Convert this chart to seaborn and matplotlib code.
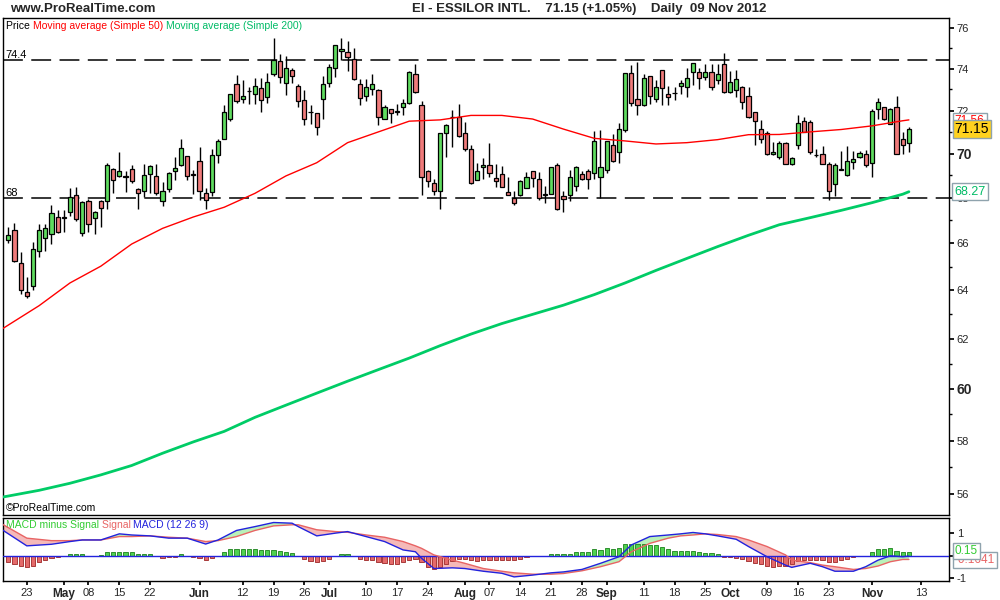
import numpy as np
import pandas as pd
import seaborn as sns
import matplotlib.pyplot as plt

sns.set_theme(style="white")
plt.rcParams["font.family"] = ["Liberation Sans", "DejaVu Sans"]

# trading sessions, Euronext is closed on 1 May; two future days for the last tick
sessions = pd.bdate_range("2012-04-18", "2012-11-13")
sessions = sessions[sessions != pd.Timestamp("2012-05-01")]

# daily candles, EI - Essilor, 18 Apr -> 09 Nov 2012
opens = [66.13, 66.58, 65.14, 63.94, 64.20, 65.66, 66.22, 66.40, 67.14, 67.15,
         67.36, 68.11, 66.45, 67.86, 67.12, 67.86, 67.84, 69.28, 68.98, 68.97,
         69.28, 68.41, 68.29, 69.09, 68.98, 67.84, 68.38, 69.19, 69.46, 69.88,
         69.05, 69.64, 68.20, 68.26, 69.91, 70.68, 71.59, 73.27, 72.55, 72.93,
         72.80, 73.05, 72.64, 73.74, 74.39, 73.30, 73.93, 73.18, 72.52, 71.95,
         71.87, 72.55, 73.30, 74.05, 74.85, 74.81, 74.49, 73.27, 72.71, 73.02,
         72.99, 71.62, 72.06, 71.97, 72.15, 72.34, 73.74, 72.24, 69.22, 68.68,
         68.29, 70.96, 71.70, 71.68, 70.93, 70.19, 68.80, 69.37, 69.46, 68.89,
         69.07, 68.26, 67.99, 68.11, 68.44, 69.19, 68.86, 68.15, 68.17, 69.46,
         68.08, 68.11, 68.53, 69.07, 69.19, 69.10, 68.92, 69.25, 70.40, 70.09,
         71.09, 73.77, 72.55, 72.27, 73.64, 72.55, 73.93, 72.80, 72.83, 73.18,
         73.11, 73.83, 73.83, 73.58, 73.83, 73.46, 74.21, 72.86, 72.96, 73.11,
         72.71, 71.93, 71.12, 70.93, 69.97, 69.85, 70.50, 69.52, 70.37, 71.52,
         71.46, 69.95, 70.00, 69.52, 68.62, 69.27, 69.01, 69.61, 69.82, 70.00,
         69.58, 72.06, 72.15, 71.37, 72.15, 70.65, 70.47]
highs = [66.73, 66.87, 65.63, 64.54, 66.05, 66.82, 66.82, 67.66, 67.45, 67.45,
         68.44, 68.47, 67.85, 67.95, 67.42, 67.90, 69.58, 69.34, 70.06, 69.19,
         69.47, 68.45, 69.50, 69.47, 69.50, 68.71, 69.16, 69.85, 70.68, 69.90,
         69.25, 70.28, 68.44, 70.19, 70.65, 72.27, 72.80, 73.71, 73.46, 73.11,
         73.55, 73.55, 73.80, 75.50, 74.73, 74.60, 74.02, 73.27, 72.99, 72.24,
         71.90, 73.67, 74.23, 75.16, 75.50, 75.34, 75.01, 73.49, 73.49, 73.74,
         73.00, 72.24, 72.08, 72.30, 72.55, 73.89, 74.23, 72.46, 69.25, 68.86,
         70.96, 71.37, 72.02, 72.30, 71.46, 70.40, 69.55, 69.79, 70.47, 69.50,
         69.43, 68.92, 68.29, 68.80, 69.16, 69.20, 69.16, 68.53, 69.40, 69.58,
         68.29, 69.25, 69.42, 69.19, 69.28, 71.03, 71.09, 70.58, 70.90, 71.43,
         73.80, 74.17, 74.33, 73.74, 73.66, 73.46, 73.95, 73.18, 73.14, 73.46,
         74.02, 74.28, 74.02, 74.21, 74.21, 74.21, 74.75, 73.87, 73.93, 73.18,
         73.14, 71.95, 71.56, 71.03, 70.53, 70.56, 70.53, 69.85, 71.78, 71.68,
         71.56, 70.19, 70.34, 69.61, 69.58, 70.12, 70.34, 70.12, 70.12, 70.15,
         72.08, 72.58, 72.18, 72.12, 72.71, 71.00, 71.24]
lows = [66.00, 65.20, 63.85, 63.67, 64.03, 65.43, 65.66, 65.95, 66.45, 66.51,
        67.21, 66.96, 66.31, 66.49, 66.40, 66.69, 67.50, 68.23, 68.95, 68.26,
        68.68, 67.48, 68.04, 68.23, 68.14, 67.63, 68.26, 68.80, 69.44, 68.80,
        68.17, 67.90, 67.48, 68.08, 69.58, 70.65, 71.50, 72.36, 72.36, 72.33,
        72.30, 71.93, 72.36, 73.64, 73.33, 72.74, 73.30, 72.15, 71.31, 71.37,
        70.87, 71.62, 73.11, 73.58, 74.44, 73.87, 73.45, 72.24, 72.46, 72.74,
        71.31, 71.60, 71.40, 71.78, 71.78, 72.30, 72.84, 68.14, 68.50, 68.14,
        67.48, 69.82, 70.31, 70.78, 70.12, 68.62, 68.78, 68.86, 68.95, 68.47,
        68.48, 68.12, 67.66, 68.08, 68.42, 68.47, 67.90, 67.75, 68.15, 67.46,
        67.39, 67.84, 68.32, 68.80, 68.41, 68.83, 67.99, 69.10, 69.62, 69.58,
        71.00, 72.21, 71.78, 72.21, 72.30, 72.40, 72.24, 72.27, 72.49, 72.77,
        72.64, 73.20, 73.02, 73.46, 72.96, 73.27, 72.84, 72.84, 72.64, 72.06,
        71.65, 70.37, 70.47, 69.95, 69.94, 69.73, 69.50, 69.46, 70.21, 70.98,
        69.97, 69.85, 69.50, 67.90, 68.08, 69.25, 68.98, 69.28, 69.80, 69.40,
        68.95, 71.59, 71.56, 71.35, 69.97, 69.97, 70.06]
closes = [66.37, 65.23, 64.00, 63.77, 65.74, 66.60, 66.67, 67.32, 66.49, 67.12,
          68.02, 67.05, 67.81, 66.85, 67.39, 67.54, 69.46, 68.80, 69.22, 68.95,
          68.74, 68.20, 69.04, 69.41, 68.20, 68.29, 69.10, 69.34, 70.25, 68.98,
          69.04, 68.29, 67.90, 69.91, 70.56, 71.93, 72.77, 72.43, 72.71, 72.92,
          73.18, 72.49, 73.36, 74.42, 73.58, 74.02, 73.64, 72.46, 71.62, 71.93,
          71.21, 73.27, 74.08, 75.14, 74.95, 74.55, 73.49, 72.59, 73.14, 73.24,
          71.68, 72.18, 71.87, 71.95, 72.34, 73.83, 72.86, 68.92, 68.74, 68.29,
          70.93, 71.34, 71.68, 70.81, 70.21, 68.65, 69.19, 69.49, 69.10, 68.77,
          68.50, 68.14, 67.75, 68.77, 68.95, 68.89, 67.99, 68.14, 69.37, 67.48,
          67.93, 68.95, 69.40, 68.83, 68.83, 70.56, 69.37, 70.56, 69.64, 71.15,
          73.77, 72.34, 72.24, 73.55, 72.71, 73.11, 73.08, 72.62, 72.84, 73.33,
          73.55, 74.26, 73.55, 73.83, 73.14, 73.74, 72.86, 73.36, 73.49, 72.40,
          71.68, 71.52, 70.65, 69.97, 70.09, 70.50, 69.52, 69.79, 71.40, 71.00,
          70.09, 69.94, 69.52, 68.29, 69.49, 69.28, 69.67, 69.73, 70.03, 69.49,
          71.96, 72.40, 71.59, 72.08, 70.00, 70.37, 71.15]

# moving averages, at these session numbers
ma_at = [-1, 0, 5, 10, 15, 20, 25, 30, 35, 40, 45, 50, 55, 60, 65, 70, 75, 80,
         85, 90, 95, 100, 105, 110, 115, 120, 125, 130, 135, 140, 145, 146]
ma50 = [62.40, 62.56, 63.36, 64.31, 65.02, 65.97, 66.65, 67.15, 67.58, 68.20,
        68.98, 69.58, 70.50, 71.00, 71.50, 71.56, 71.77, 71.77, 71.60, 71.13,
        70.70, 70.58, 70.44, 70.50, 70.64, 70.87, 70.88, 71.00, 71.11, 71.28,
        71.52, 71.56]
ma200 = [55.89, 55.93, 56.14, 56.40, 56.71, 57.06, 57.52, 57.95, 58.35, 58.89,
         59.36, 59.83, 60.30, 60.76, 61.22, 61.72, 62.19, 62.62, 63.00, 63.38,
         63.82, 64.31, 64.84, 65.35, 65.86, 66.35, 66.81, 67.12, 67.44, 67.78,
         68.16, 68.27]

# MACD (12 26 9)
macd_at = [-1, 3, 7, 10, 12, 15, 18, 20, 23, 26, 29, 32, 34, 37, 40, 43, 46, 47,
           50, 53, 55, 58, 61, 64, 66, 67, 69, 72, 74, 77, 80, 82, 85, 88, 90,
           93, 96, 99, 101, 104, 107, 109, 111, 113, 115, 118, 120, 123, 126,
           127, 130, 132, 134, 137, 139, 141, 143, 145, 146]
macd_line = [1.15, 0.44, 0.51, 0.63, 0.70, 0.70, 0.97, 0.92, 0.88, 0.78, 0.78,
             0.52, 0.70, 1.12, 1.29, 1.47, 1.44, 1.29, 0.88, 1.00, 1.07, 0.85,
             0.63, 0.26, 0.18, -0.11, -0.56, -0.53, -0.56, -0.68, -0.77, -0.93,
             -0.85, -0.75, -0.71, -0.60, -0.33, -0.04, 0.48, 0.85, 0.92, 0.97,
             1.03, 0.97, 0.88, 0.73, 0.41, -0.04, -0.41, -0.51, -0.33, -0.48,
             -0.68, -0.68, -0.48, -0.19, 0.00, -0.04, -0.01]
signal_line = [1.40, 0.78, 0.67, 0.67, 0.70, 0.70, 0.85, 0.85, 0.88, 0.82, 0.78,
               0.63, 0.67, 0.85, 1.12, 1.32, 1.37, 1.37, 1.15, 1.07, 1.04, 0.92,
               0.82, 0.63, 0.44, 0.33, 0.04, -0.19, -0.33, -0.56, -0.68, -0.75,
               -0.81, -0.81, -0.78, -0.66, -0.48, -0.26, 0.18, 0.55, 0.78, 0.88,
               0.92, 0.97, 0.94, 0.85, 0.70, 0.41, 0.04, -0.19, -0.30, -0.41,
               -0.48, -0.60, -0.56, -0.45, -0.26, -0.16, -0.16]
macd_hist = [-0.28, -0.34, -0.43, -0.49, -0.43, -0.28, -0.19, -0.10, -0.04, -0.01,
             0.06, 0.06, 0.10, 0.01, 0.01, 0.02, 0.16, 0.16, 0.19, 0.16,
             0.15, 0.06, 0.06, 0.06, 0.01, -0.09, -0.04, -0.04, 0.06, 0.01,
             -0.04, -0.09, -0.19, -0.09, 0.01, 0.16, 0.28, 0.31, 0.31, 0.31,
             0.31, 0.24, 0.24, 0.25, 0.22, 0.19, 0.13, 0.01, -0.13, -0.24,
             -0.28, -0.24, -0.13, 0.01, 0.06, 0.06, 0.01, -0.13, -0.19, -0.19,
             -0.28, -0.31, -0.34, -0.34, -0.28, -0.19, -0.13, -0.28, -0.49, -0.58,
             -0.49, -0.34, -0.24, -0.13, -0.13, -0.19, -0.24, -0.19, -0.19, -0.19,
             -0.19, -0.19, -0.19, -0.13, -0.04, 0.01, 0.01, 0.01, 0.09, 0.06,
             0.06, 0.10, 0.16, 0.16, 0.16, 0.28, 0.25, 0.34, 0.31, 0.34,
             0.53, 0.53, 0.53, 0.53, 0.46, 0.46, 0.39, 0.28, 0.22, 0.22,
             0.22, 0.22, 0.16, 0.13, 0.13, 0.06, -0.04, -0.04, -0.09, -0.13,
             -0.24, -0.31, -0.34, -0.46, -0.49, -0.46, -0.43, -0.34, -0.24, -0.19,
             -0.19, -0.19, -0.19, -0.28, -0.28, -0.19, -0.13, -0.04, 0.01, 0.01,
             0.19, 0.31, 0.31, 0.36, 0.22, 0.19, 0.17]

support_levels = [74.4, 68]
price_ticks = [56, 58, 60, 62, 64, 66, 68, 70, 72, 74, 76]
tick_dates = ["2012-04-23", "2012-05-02", "2012-05-08", "2012-05-15", "2012-05-22",
              "2012-06-01", "2012-06-12", "2012-06-19", "2012-06-26", "2012-07-02",
              "2012-07-10", "2012-07-17", "2012-07-24", "2012-08-01", "2012-08-07",
              "2012-08-14", "2012-08-21", "2012-08-28", "2012-09-03", "2012-09-11",
              "2012-09-18", "2012-09-25", "2012-10-01", "2012-10-09", "2012-10-16",
              "2012-10-23", "2012-11-01", "2012-11-13"]
tick_labels = ["23", "May", "08", "15", "22", "Jun", "12", "19", "26", "Jul", "10",
               "17", "24", "Aug", "07", "14", "21", "28", "Sep", "11", "18", "25",
               "Oct", "09", "16", "23", "Nov", "13"]
months = {"May", "Jun", "Jul", "Aug", "Sep", "Oct", "Nov"}

GREEN = "#5fdc5f"
RED = "#ef7b7b"

o = np.array(opens)
c = np.array(closes)
x = np.arange(len(c))
up = c >= o

fig = plt.figure(figsize=(10, 6), dpi=100, facecolor="white")
ax = fig.add_axes([0.003, 0.1417, 0.946, 0.8283])
ax2 = fig.add_axes([0.003, 0.0317, 0.946, 0.105], sharex=ax)

# ---- price panel ----
ax.set_yscale("log")
for lvl in support_levels:
    ax.axhline(lvl, color="black", lw=1.1, dashes=(13, 5.5), zorder=1)
    ax.text(-0.45, lvl, "74.4" if lvl == 74.4 else "68", fontsize=8, va="bottom",
            ha="left", color="black", zorder=5)

ax.vlines(x, lows, highs, color="black", lw=1, zorder=2)
ax.bar(x, np.maximum(np.abs(c - o), 0.004), bottom=np.minimum(o, c), width=0.68,
       color=np.where(up, GREEN, RED), edgecolor="black", linewidth=0.9, zorder=3)

sns.lineplot(x=ma_at, y=ma50, ax=ax, color="#ff0000", linewidth=1, zorder=4)
sns.lineplot(x=ma_at, y=ma200, ax=ax, color="#00cc66", linewidth=2.0, zorder=4)

ax.set_ylim(55.24, 76.5)
ax.set_xlim(-0.86, 152.5)
ax.yaxis.tick_right()
ax.set_yticks(price_ticks, [str(t) for t in price_ticks])
ax.set_yticks([t + 1 for t in price_ticks[:-1]], minor=True)
ax.yaxis.set_minor_formatter(plt.NullFormatter())
ax.tick_params(axis="y", which="both", right=True, left=False, direction="out",
               color="black", pad=2)
ax.tick_params(axis="y", which="major", length=3.5, labelsize=8)
ax.tick_params(axis="y", which="minor", length=2.5)
ax.tick_params(axis="x", bottom=False, labelbottom=False)
for lab in ax.get_yticklabels():
    if lab.get_text() in ("70", "60"):
        lab.set_fontweight("bold")
        lab.set_fontsize(10)
ax.set_xlabel("")
ax.set_ylabel("")

t = ax.text(0.003, 0.993, "Price ", transform=ax.transAxes, fontsize=7.5,
            va="top", ha="left", color="black")
t = ax.annotate("Moving average (Simple 50) ", xy=(1, 0), xycoords=t, fontsize=7.5,
                va="bottom", ha="left", color="#ff0000")
ax.annotate("Moving average (Simple 200)", xy=(1, 0), xycoords=t, fontsize=7.5,
            va="bottom", ha="left", color="#00bb66")
ax.text(0.003, 0.004, "\u00a9ProRealTime.com", transform=ax.transAxes, fontsize=7.5,
        va="bottom", ha="left", color="black")

box = dict(boxstyle="square,pad=0.18", fc="white", ec="#8fa3ad", lw=1)
ytr = ax.get_yaxis_transform()
ax.text(1.006, 71.5, "71.56", transform=ytr, color="#ff0000", fontsize=8.5,
        va="center", ha="left", bbox=box, clip_on=False, zorder=6)
ax.text(1.006, 71.13, "71.15", transform=ytr, color="black", fontsize=10,
        va="center", ha="left", clip_on=False, zorder=7,
        bbox=dict(boxstyle="square,pad=0.15", fc="#ffd21f", ec="#8fa3ad", lw=1))
ax.text(1.006, 68.27, "68.27", transform=ytr, color="#00bb66", fontsize=9,
        va="center", ha="left", bbox=box, clip_on=False, zorder=6)

# ---- MACD panel ----
m = np.array(macd_line)
s = np.array(signal_line)
ax2.fill_between(macd_at, m, s, where=m >= s, interpolate=True, color="#b9f1b9", lw=0)
ax2.fill_between(macd_at, m, s, where=m < s, interpolate=True, color="#f5b9b9", lw=0)
h = np.array(macd_hist)
ax2.bar(x, h, width=0.68, color=np.where(h >= 0, "#4fd24f", "#e46a6a"),
        edgecolor=np.where(h >= 0, "#2f8f2f", "#a83a3a"), linewidth=0.7, zorder=2)
ax2.axhline(0, color="#2222dd", lw=1, zorder=3)
sns.lineplot(x=macd_at, y=signal_line, ax=ax2, color="#e86464", linewidth=1, zorder=4)
sns.lineplot(x=macd_at, y=macd_line, ax=ax2, color="#2222dd", linewidth=1, zorder=5)
ax2.set_ylim(-1.11, 1.67)
ax2.set_xlim(-0.86, 152.5)
ax2.yaxis.tick_right()
ax2.set_yticks([-1, 0, 1], ["-1", "", "1"])
ax2.tick_params(axis="y", right=True, left=False, length=3.5, labelsize=8,
                direction="out", color="black", pad=2)
ax2.set_xlabel("")
ax2.set_ylabel("")

pos = [sessions.get_loc(pd.Timestamp(d)) for d in tick_dates]
ax2.set_xticks(pos, tick_labels)
ax2.tick_params(axis="x", bottom=True, length=3, labelsize=8, direction="out",
                color="black", pad=2)
for lab in ax2.get_xticklabels():
    if lab.get_text() in months:
        lab.set_fontweight("bold")
        lab.set_fontsize(8.5)

t = ax2.text(0.003, 0.97, "MACD minus Signal ", transform=ax2.transAxes, fontsize=7.5,
             va="top", ha="left", color="#33cc33")
t = ax2.annotate("Signal ", xy=(1, 0), xycoords=t, fontsize=7.5, va="bottom",
                 ha="left", color="#e86464")
ax2.annotate("MACD (12 26 9)", xy=(1, 0), xycoords=t, fontsize=7.5, va="bottom",
             ha="left", color="#2222dd")

ytr2 = ax2.get_yaxis_transform()
ax2.text(1.006, -0.17, "-0.1641", transform=ytr2, color="#e86464", fontsize=8.5,
         va="center", ha="left", bbox=box, clip_on=False, zorder=6)
ax2.text(1.006, 0.2, "0.15", transform=ytr2, color="#33cc33", fontsize=8.5,
         va="center", ha="left", bbox=box, clip_on=False, zorder=7)

for a in (ax, ax2):
    for sp in a.spines.values():
        sp.set_color("black")
        sp.set_linewidth(1)

fig.text(0.01, 0.985, "www.ProRealTime.com", fontsize=9.5, fontweight="bold",
         va="center", ha="left")
fig.text(0.412, 0.985, "EI - ESSILOR INTL.    71.15 (+1.05%)    Daily  09 Nov 2012",
         fontsize=9.5, fontweight="bold", va="center", ha="left")

fig.savefig("out.png", dpi=100, facecolor="white")
